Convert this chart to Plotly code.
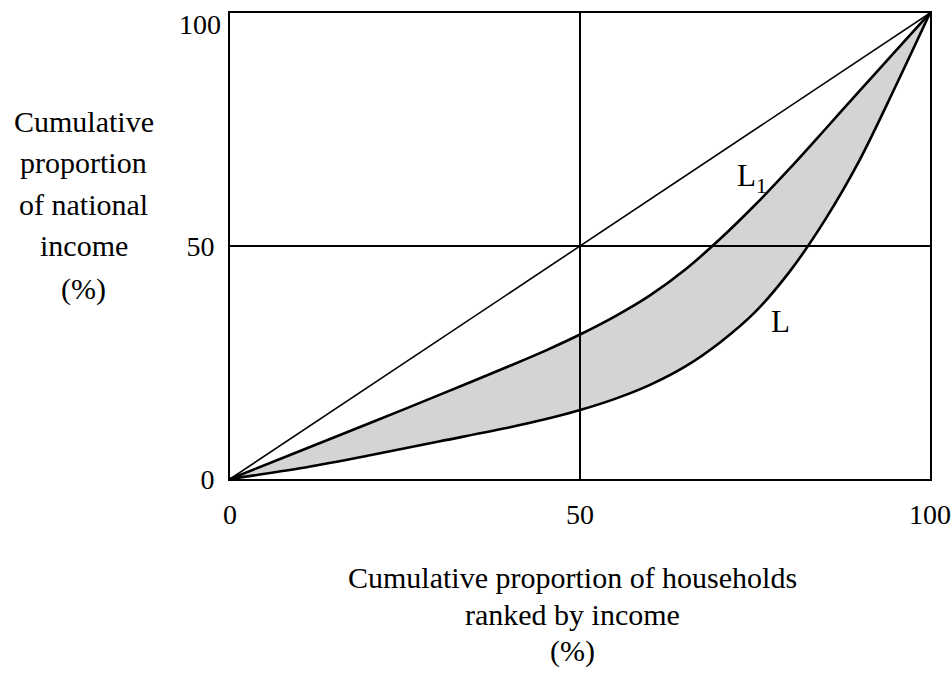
import plotly.graph_objects as go

# Data
households = [0, 10, 20, 30, 40, 45, 50, 55, 60, 65, 70, 75, 80, 85, 90, 95, 100]
curve_L1 = [0, 6.0, 12.0, 18.1, 24.3, 27.5, 31.0, 34.9, 39.4, 44.9, 51.5, 58.8, 66.7, 75.0, 83.4, 91.7, 100]
curve_L = [0, 2.3, 5.1, 8.1, 11.1, 12.8, 14.8, 17.2, 20.2, 24.1, 29.3, 35.8, 44.6, 55.6, 68.6, 84.0, 100]
equality = [0, 100]
y_tick_vals = [0, 50]
y_tick_text = ["0", "50"]
y_top_tick_vals = [100]
y_top_tick_text = ["100"]
x_tick_vals = [0, 50, 100]
x_tick_text = ["0", "50", "100"]
y_title_lines = ["Cumulative", "proportion", "of national", "income", "(%)"]
x_title_lines = ["Cumulative proportion of households", "ranked by income", "(%)"]

FONT = "Liberation Serif, Times New Roman, serif"

fig = go.Figure()
fig.add_trace(go.Scatter(x=households, y=curve_L, mode="lines",
                         line=dict(color="black", width=2.6, shape="spline", smoothing=0.9),
                         hoverinfo="skip", showlegend=False))
fig.add_trace(go.Scatter(x=households, y=curve_L1, mode="lines",
                         line=dict(color="black", width=2.6, shape="spline", smoothing=0.9),
                         fill="tonexty", fillcolor="rgb(212,212,212)",
                         hoverinfo="skip", showlegend=False))
fig.add_trace(go.Scatter(x=equality, y=equality, mode="lines",
                         line=dict(color="black", width=1.6),
                         hoverinfo="skip", showlegend=False))
# invisible trace to carry the secondary y axis used for the "100" label
fig.add_trace(go.Scatter(x=[0], y=[100], yaxis="y2", mode="markers",
                         marker=dict(opacity=0), hoverinfo="skip", showlegend=False))

# 50% reference lines
fig.add_shape(type="line", x0=50, x1=50, y0=0, y1=100, xref="x", yref="y",
              line=dict(color="black", width=2))
fig.add_shape(type="line", x0=0, x1=100, y0=50, y1=50, xref="x", yref="y",
              line=dict(color="black", width=2))

fig.add_annotation(x=74.6, y=64.6, text="L<sub>1</sub>", showarrow=False,
                   font=dict(family=FONT, size=31, color="black"))
fig.add_annotation(x=78.6, y=33.7, text="L", showarrow=False,
                   font=dict(family=FONT, size=31, color="black"))

# axis titles (one annotation per line, positions in paper units)
y_title_ypos = [0.768, 0.680, 0.590, 0.502, 0.408]
for txt, yp in zip(y_title_lines, y_title_ypos):
    fig.add_annotation(xref="paper", yref="paper", x=-0.2086, y=yp, text=txt,
                       showarrow=False, xanchor="center", yanchor="middle",
                       font=dict(family=FONT, size=30, color="black"))
x_title_ypos = [-0.2124, -0.2897, -0.3691]
for txt, yp in zip(x_title_lines, x_title_ypos):
    fig.add_annotation(xref="paper", yref="paper", x=0.4886, y=yp, text=txt,
                       showarrow=False, xanchor="center", yanchor="middle",
                       font=dict(family=FONT, size=30, color="black"))

axis_common = dict(range=[0, 100], showgrid=False, zeroline=False,
                   showline=True, mirror=True, linecolor="black", linewidth=2,
                   ticks="", ticklabeloverflow="allow", automargin=False,
                   tickfont=dict(family=FONT, size=28, color="black"))

fig.update_xaxes(**axis_common, tickvals=x_tick_vals, ticktext=x_tick_text,
                 ticklabelstandoff=9)
fig.update_yaxes(**axis_common, tickvals=y_tick_vals, ticktext=y_tick_text,
                 ticklabelstandoff=8)

fig.update_layout(
    width=952, height=681,
    margin=dict(l=230, r=22, t=13, b=202),
    plot_bgcolor="white", paper_bgcolor="white",
    hovermode=False,
    yaxis2=dict(overlaying="y", side="left", range=[0, 100],
                tickvals=y_top_tick_vals, ticktext=y_top_tick_text,
                showgrid=False, zeroline=False, showline=False, ticks="",
                ticklabelshift=11, ticklabelstandoff=8,
                ticklabeloverflow="allow", automargin=False,
                tickfont=dict(family=FONT, size=28, color="black")),
)

fig.write_html("out.html",
               config={"displayModeBar": False},
               post_script="document.body.style.margin='0';"
                           "document.body.style.overflow='hidden';")
